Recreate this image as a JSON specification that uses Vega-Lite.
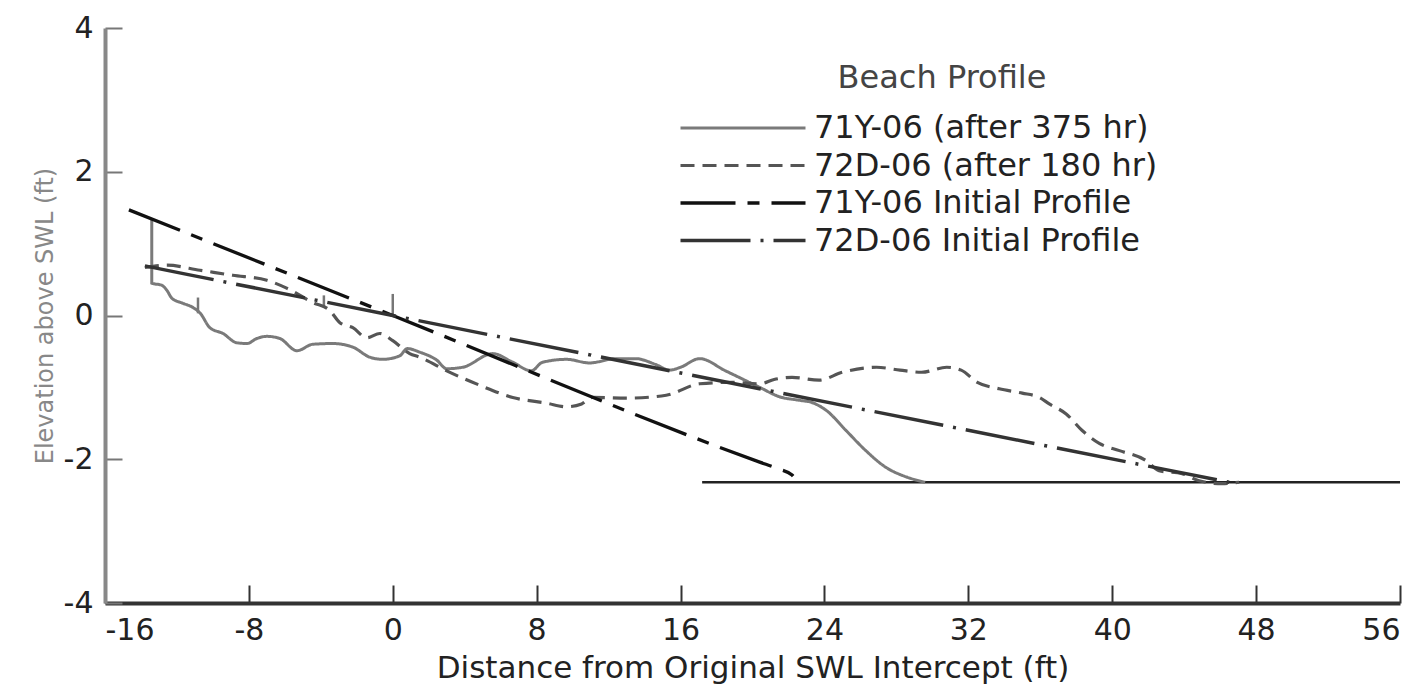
{
  "$schema": "https://vega.github.io/schema/vega-lite/v6.json",
  "width": 1295,
  "height": 575,
  "autosize": {"type": "none"},
  "padding": {"left": 105, "top": 28, "right": 24, "bottom": 93},
  "background": "white",
  "config": {"view": {"stroke": null}, "font": "DejaVu Sans"},
  "datasets": {
    "profiles": [
      {"series": "71Y-06 (after 375 hr)", "i": 0, "x": -13.4, "y": 1.35},
      {"series": "71Y-06 (after 375 hr)", "i": 1, "x": -13.4, "y": 0.45},
      {"series": "71Y-06 (after 375 hr)", "i": 2, "x": -12.83, "y": 0.42},
      {"series": "71Y-06 (after 375 hr)", "i": 3, "x": -12.56, "y": 0.35},
      {"series": "71Y-06 (after 375 hr)", "i": 4, "x": -12.28, "y": 0.24},
      {"series": "71Y-06 (after 375 hr)", "i": 5, "x": -11.67, "y": 0.17},
      {"series": "71Y-06 (after 375 hr)", "i": 6, "x": -11.1, "y": 0.11},
      {"series": "71Y-06 (after 375 hr)", "i": 7, "x": -10.7, "y": 0.03},
      {"series": "71Y-06 (after 375 hr)", "i": 8, "x": -10.17, "y": -0.17},
      {"series": "71Y-06 (after 375 hr)", "i": 9, "x": -9.44, "y": -0.25},
      {"series": "71Y-06 (after 375 hr)", "i": 10, "x": -8.67, "y": -0.38},
      {"series": "71Y-06 (after 375 hr)", "i": 11, "x": -8.1, "y": -0.39},
      {"series": "71Y-06 (after 375 hr)", "i": 12, "x": -7.56, "y": -0.32},
      {"series": "71Y-06 (after 375 hr)", "i": 13, "x": -7.0, "y": -0.29},
      {"series": "71Y-06 (after 375 hr)", "i": 14, "x": -6.28, "y": -0.32},
      {"series": "71Y-06 (after 375 hr)", "i": 15, "x": -5.33, "y": -0.49},
      {"series": "71Y-06 (after 375 hr)", "i": 16, "x": -4.44, "y": -0.4},
      {"series": "71Y-06 (after 375 hr)", "i": 17, "x": -3.33, "y": -0.39},
      {"series": "71Y-06 (after 375 hr)", "i": 18, "x": -2.22, "y": -0.44},
      {"series": "71Y-06 (after 375 hr)", "i": 19, "x": -1.28, "y": -0.58},
      {"series": "71Y-06 (after 375 hr)", "i": 20, "x": -0.56, "y": -0.61},
      {"series": "71Y-06 (after 375 hr)", "i": 21, "x": 0.39, "y": -0.56},
      {"series": "71Y-06 (after 375 hr)", "i": 22, "x": 0.8, "y": -0.46},
      {"series": "71Y-06 (after 375 hr)", "i": 23, "x": 1.5, "y": -0.51},
      {"series": "71Y-06 (after 375 hr)", "i": 24, "x": 2.44, "y": -0.62},
      {"series": "71Y-06 (after 375 hr)", "i": 25, "x": 3.0, "y": -0.74},
      {"series": "71Y-06 (after 375 hr)", "i": 26, "x": 3.89, "y": -0.72},
      {"series": "71Y-06 (after 375 hr)", "i": 27, "x": 5.56, "y": -0.53},
      {"series": "71Y-06 (after 375 hr)", "i": 28, "x": 6.67, "y": -0.65},
      {"series": "71Y-06 (after 375 hr)", "i": 29, "x": 7.7, "y": -0.77},
      {"series": "71Y-06 (after 375 hr)", "i": 30, "x": 8.33, "y": -0.65},
      {"series": "71Y-06 (after 375 hr)", "i": 31, "x": 9.67, "y": -0.61},
      {"series": "71Y-06 (after 375 hr)", "i": 32, "x": 10.94, "y": -0.66},
      {"series": "71Y-06 (after 375 hr)", "i": 33, "x": 12.4, "y": -0.6},
      {"series": "71Y-06 (after 375 hr)", "i": 34, "x": 13.5, "y": -0.6},
      {"series": "71Y-06 (after 375 hr)", "i": 35, "x": 14.6, "y": -0.68},
      {"series": "71Y-06 (after 375 hr)", "i": 36, "x": 15.4, "y": -0.76},
      {"series": "71Y-06 (after 375 hr)", "i": 37, "x": 16.0, "y": -0.72},
      {"series": "71Y-06 (after 375 hr)", "i": 38, "x": 17.06, "y": -0.6},
      {"series": "71Y-06 (after 375 hr)", "i": 39, "x": 18.5, "y": -0.77},
      {"series": "71Y-06 (after 375 hr)", "i": 40, "x": 20.4, "y": -1.0},
      {"series": "71Y-06 (after 375 hr)", "i": 41, "x": 21.5, "y": -1.13},
      {"series": "71Y-06 (after 375 hr)", "i": 42, "x": 22.61, "y": -1.18},
      {"series": "71Y-06 (after 375 hr)", "i": 43, "x": 23.3, "y": -1.21},
      {"series": "71Y-06 (after 375 hr)", "i": 44, "x": 24.1, "y": -1.32},
      {"series": "71Y-06 (after 375 hr)", "i": 45, "x": 25.2, "y": -1.6},
      {"series": "71Y-06 (after 375 hr)", "i": 46, "x": 26.3, "y": -1.88},
      {"series": "71Y-06 (after 375 hr)", "i": 47, "x": 27.4, "y": -2.11},
      {"series": "71Y-06 (after 375 hr)", "i": 48, "x": 28.6, "y": -2.25},
      {"series": "71Y-06 (after 375 hr)", "i": 49, "x": 29.6, "y": -2.32},

      {"series": "72D-06 (after 180 hr)", "i": 0, "x": -13.78, "y": 0.67},
      {"series": "72D-06 (after 180 hr)", "i": 1, "x": -12.56, "y": 0.7},
      {"series": "72D-06 (after 180 hr)", "i": 2, "x": -10.72, "y": 0.63},
      {"series": "72D-06 (after 180 hr)", "i": 3, "x": -8.9, "y": 0.56},
      {"series": "72D-06 (after 180 hr)", "i": 4, "x": -7.0, "y": 0.49},
      {"series": "72D-06 (after 180 hr)", "i": 5, "x": -5.9, "y": 0.38},
      {"series": "72D-06 (after 180 hr)", "i": 6, "x": -4.44, "y": 0.18},
      {"series": "72D-06 (after 180 hr)", "i": 7, "x": -3.5, "y": 0.07},
      {"series": "72D-06 (after 180 hr)", "i": 8, "x": -2.94, "y": -0.1},
      {"series": "72D-06 (after 180 hr)", "i": 9, "x": -2.22, "y": -0.17},
      {"series": "72D-06 (after 180 hr)", "i": 10, "x": -1.44, "y": -0.31},
      {"series": "72D-06 (after 180 hr)", "i": 11, "x": -0.72, "y": -0.25},
      {"series": "72D-06 (after 180 hr)", "i": 12, "x": 0.0, "y": -0.35},
      {"series": "72D-06 (after 180 hr)", "i": 13, "x": 0.94, "y": -0.53},
      {"series": "72D-06 (after 180 hr)", "i": 14, "x": 1.5, "y": -0.58},
      {"series": "72D-06 (after 180 hr)", "i": 15, "x": 3.0, "y": -0.77},
      {"series": "72D-06 (after 180 hr)", "i": 16, "x": 4.83, "y": -0.97},
      {"series": "72D-06 (after 180 hr)", "i": 17, "x": 6.67, "y": -1.14},
      {"series": "72D-06 (after 180 hr)", "i": 18, "x": 8.55, "y": -1.22},
      {"series": "72D-06 (after 180 hr)", "i": 19, "x": 9.67, "y": -1.27},
      {"series": "72D-06 (after 180 hr)", "i": 20, "x": 10.5, "y": -1.23},
      {"series": "72D-06 (after 180 hr)", "i": 21, "x": 11.1, "y": -1.14},
      {"series": "72D-06 (after 180 hr)", "i": 22, "x": 13.0, "y": -1.15},
      {"series": "72D-06 (after 180 hr)", "i": 23, "x": 15.2, "y": -1.11},
      {"series": "72D-06 (after 180 hr)", "i": 24, "x": 17.06, "y": -0.95},
      {"series": "72D-06 (after 180 hr)", "i": 25, "x": 18.89, "y": -0.93},
      {"series": "72D-06 (after 180 hr)", "i": 26, "x": 20.4, "y": -0.95},
      {"series": "72D-06 (after 180 hr)", "i": 27, "x": 21.2, "y": -0.89},
      {"series": "72D-06 (after 180 hr)", "i": 28, "x": 22.2, "y": -0.86},
      {"series": "72D-06 (after 180 hr)", "i": 29, "x": 23.7, "y": -0.9},
      {"series": "72D-06 (after 180 hr)", "i": 30, "x": 25.0, "y": -0.79},
      {"series": "72D-06 (after 180 hr)", "i": 31, "x": 26.9, "y": -0.72},
      {"series": "72D-06 (after 180 hr)", "i": 32, "x": 28.2, "y": -0.76},
      {"series": "72D-06 (after 180 hr)", "i": 33, "x": 29.4, "y": -0.79},
      {"series": "72D-06 (after 180 hr)", "i": 34, "x": 30.8, "y": -0.72},
      {"series": "72D-06 (after 180 hr)", "i": 35, "x": 31.6, "y": -0.76},
      {"series": "72D-06 (after 180 hr)", "i": 36, "x": 32.5, "y": -0.93},
      {"series": "72D-06 (after 180 hr)", "i": 37, "x": 33.72, "y": -1.02},
      {"series": "72D-06 (after 180 hr)", "i": 38, "x": 35.0, "y": -1.08},
      {"series": "72D-06 (after 180 hr)", "i": 39, "x": 35.94, "y": -1.14},
      {"series": "72D-06 (after 180 hr)", "i": 40, "x": 36.5, "y": -1.23},
      {"series": "72D-06 (after 180 hr)", "i": 41, "x": 37.44, "y": -1.37},
      {"series": "72D-06 (after 180 hr)", "i": 42, "x": 38.33, "y": -1.6},
      {"series": "72D-06 (after 180 hr)", "i": 43, "x": 39.28, "y": -1.78},
      {"series": "72D-06 (after 180 hr)", "i": 44, "x": 40.4, "y": -1.88},
      {"series": "72D-06 (after 180 hr)", "i": 45, "x": 41.89, "y": -2.02},
      {"series": "72D-06 (after 180 hr)", "i": 46, "x": 42.6, "y": -2.16},
      {"series": "72D-06 (after 180 hr)", "i": 47, "x": 43.89, "y": -2.2},
      {"series": "72D-06 (after 180 hr)", "i": 48, "x": 44.83, "y": -2.3},
      {"series": "72D-06 (after 180 hr)", "i": 49, "x": 46.1, "y": -2.34},
      {"series": "72D-06 (after 180 hr)", "i": 50, "x": 47.06, "y": -2.32},

      {"series": "71Y-06 Initial Profile", "i": 0, "x": -14.67, "y": 1.47},
      {"series": "71Y-06 Initial Profile", "i": 1, "x": 0.0, "y": 0.0},
      {"series": "71Y-06 Initial Profile", "i": 2, "x": 20.4, "y": -2.04},
      {"series": "71Y-06 Initial Profile", "i": 3, "x": 21.4, "y": -2.13},
      {"series": "71Y-06 Initial Profile", "i": 4, "x": 22.2, "y": -2.22},
      {"series": "71Y-06 Initial Profile", "i": 5, "x": 22.5, "y": -2.32},

      {"series": "72D-06 Initial Profile", "i": 0, "x": -13.78, "y": 0.69},
      {"series": "72D-06 Initial Profile", "i": 1, "x": 0.0, "y": 0.0},
      {"series": "72D-06 Initial Profile", "i": 2, "x": 46.5, "y": -2.32}
    ],
    "floor": [{"x": 17.2, "x2": 56, "y": -2.32}],
    "stakes": [
      {"x": -10.83, "y": 0.25, "y2": 0.03},
      {"x": -3.83, "y": 0.28, "y2": 0.11},
      {"x": 0.0, "y": 0.3, "y2": 0.0}
    ]
  },
  "layer": [
    {
      "data": {"name": "floor"},
      "mark": {"type": "rule", "color": "#222", "strokeWidth": 2.5},
      "encoding": {
        "x": {"field": "x", "type": "quantitative", "scale": {"domain": [-16, 56], "nice": false, "zero": false},
          "axis": {
            "values": [-16, -8, 0, 8, 16, 24, 32, 40, 48, 56],
            "labelExpr": "datum.value + ''",
            "title": "Distance from Original SWL Intercept (ft)",
            "grid": false,
            "domainColor": "#333", "domainWidth": 4,
            "tickColor": "#333", "tickWidth": 2, "tickSize": -18,
            "labelFontSize": 30, "labelColor": "#222", "labelPadding": 30,
            "labelFont": "DejaVu Sans",
            "titleFontSize": 31, "titleFontWeight": "normal", "titleColor": "#222",
            "titleFont": "DejaVu Sans", "titlePadding": 8
          }},
        "x2": {"field": "x2"},
        "y": {"field": "y", "type": "quantitative", "scale": {"domain": [-4, 4], "nice": false, "zero": false},
          "axis": {
            "values": [-4, -2, 0, 2, 4],
            "labelExpr": "datum.value + ''",
            "title": "Elevation above SWL (ft)",
            "grid": false,
            "domainColor": "#888", "domainWidth": 4,
            "tickColor": "#777", "tickWidth": 2, "tickSize": -17,
            "labelFontSize": 30, "labelColor": "#222", "labelPadding": 29,
            "labelFont": "DejaVu Sans",
            "titleFontSize": 24, "titleFontWeight": "normal", "titleColor": "#888",
            "titleFont": "DejaVu Sans", "titlePadding": 6
          }}
      }
    },
    {
      "data": {"name": "stakes"},
      "mark": {"type": "rule", "color": "#777", "strokeWidth": 2.5},
      "encoding": {
        "x": {"field": "x", "type": "quantitative"},
        "y": {"field": "y", "type": "quantitative"},
        "y2": {"field": "y2"}
      }
    },
    {
      "data": {"name": "profiles"},
      "mark": {"type": "line", "interpolate": "monotone"},
      "encoding": {
        "x": {"field": "x", "type": "quantitative"},
        "y": {"field": "y", "type": "quantitative"},
        "order": {"field": "i", "type": "quantitative"},
        "color": {
          "field": "series", "type": "nominal",
          "scale": {
            "domain": ["71Y-06 (after 375 hr)", "72D-06 (after 180 hr)", "71Y-06 Initial Profile", "72D-06 Initial Profile"],
            "range": ["#7a7a7a", "#555555", "#111111", "#333333"]
          },
          "legend": {
            "orient": "none", "legendX": 622, "legendY": 35,
            "title": "Beach Profile", "titleFontSize": 32, "titleFontWeight": "normal", "titleLimit": 800,
            "titleColor": "#444", "titleFont": "DejaVu Sans", "titleAnchor": "middle", "titlePadding": 17,
            "labelFontSize": 32, "labelColor": "#222", "labelFont": "DejaVu Sans", "labelLimit": 600,
            "labelOffset": 55,
            "symbolType": "M-5,0H5", "symbolSize": 625, "symbolStrokeWidth": 3, "rowPadding": 5.5
          }
        },
        "strokeDash": {
          "field": "series", "type": "nominal",
          "scale": {
            "domain": ["71Y-06 (after 375 hr)", "72D-06 (after 180 hr)", "71Y-06 Initial Profile", "72D-06 Initial Profile"],
            "range": [[1, 0], [14, 8], [55, 12, 12, 12], [70, 10, 3, 10]]
          }
        },
        "strokeWidth": {
          "field": "series", "type": "nominal",
          "scale": {
            "domain": ["71Y-06 (after 375 hr)", "72D-06 (after 180 hr)", "71Y-06 Initial Profile", "72D-06 Initial Profile"],
            "range": [3, 3.5, 2.5, 2.5]
          },
          "legend": null
        }
      }
    }
  ]
}
